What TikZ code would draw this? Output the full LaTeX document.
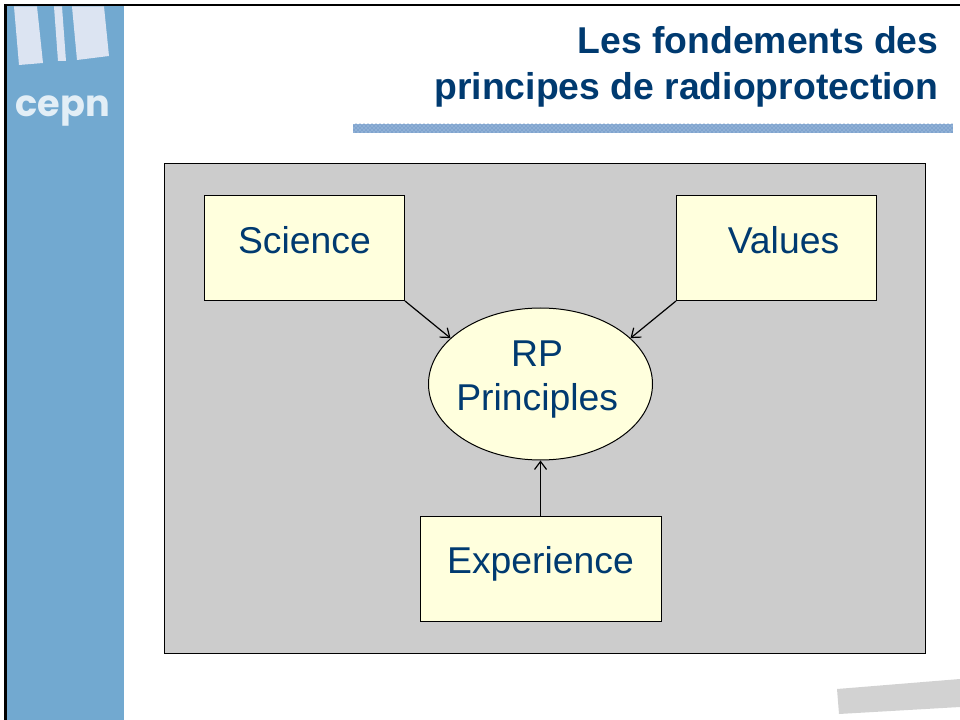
\documentclass[tikz,border=0pt]{standalone}
\usepackage{fontspec}
\setmainfont{Liberation Sans}
\newfontfamily\logofont{Poppins}
\usetikzlibrary{shapes.geometric,patterns,arrows.meta}
\definecolor{navytext}{HTML}{003A70}
\definecolor{sidebar}{HTML}{72A9D0}
\definecolor{logobar}{HTML}{DCE4F2}
\definecolor{logotext}{HTML}{E2EEF6}
\definecolor{panelgrey}{HTML}{CCCCCC}
\definecolor{boxyellow}{HTML}{FFFFDD}
\definecolor{stripblue}{HTML}{8FB0D6}
\definecolor{stripdark}{HTML}{4F7FB5}
\definecolor{cornergrey}{HTML}{D2D2D2}
\tikzset{every picture/.style={line width=0.75pt}}
\tikzset{
	boxnode/.style={draw=black,fill=boxyellow,text=navytext,font=\fontsize{28}{34}\selectfont,minimum width=150pt,minimum height=78.75pt,inner sep=0pt,text height=20pt,text depth=12pt},
	ovalnode/.style={draw=black,fill=boxyellow,text=navytext,font=\fontsize{28}{33}\selectfont,ellipse,align=center,minimum width=168pt,minimum height=114pt,inner xsep=-8pt,inner ysep=0pt},
	arrowline/.style={draw=black,line width=0.9pt,-{Straight Barb[length=6pt,width=9pt]}}
}

\begin{document}
\begin{tikzpicture}[x=0.75pt,y=0.75pt,yscale=-1,xscale=1]
		\useasboundingbox (0,0) rectangle (960,720);
		
		%Sidebar and page border
		\fill [sidebar] (6,6) rectangle (124,720);
		\fill [black] (4,4) rectangle (960,6.5);
		\fill [black] (4,4) rectangle (6.5,720);
		
		%Logo bars
		\fill [logobar] (14,6.5) -- (37,6.5) -- (43,63) -- (19,65) -- cycle;
		\fill [logobar] (54,6.5) -- (62,6.5) -- (66,61) -- (58,61) -- cycle;
		\fill [logobar] (72,6.5) -- (104,6.5) -- (109,56) -- (77,60) -- cycle;
		
		% Text Node
		\node (logo) at (63,117) [anchor=base,inner sep=0pt,text=logotext,font=\fontsize{27.5}{30}\logofont\bfseries] {cepn};
		
		% Text Node
		\node (title) at (939,67) [anchor=east,align=right,inner sep=0pt,text=navytext,font=\fontsize{28}{34}\selectfont\bfseries] {Les fondements des\\principes de radioprotection};
		
		%Title strip
		\fill [stripblue] (353,124) rectangle (953,133);
		\fill [pattern=crosshatch dots,pattern color=stripdark] (353,124) rectangle (953,133);
		
		%Corner mark
		\fill [cornergrey] (837,689) -- (960,679) -- (960,707) -- (839,714) -- cycle;
		
		%Panel
		\draw [fill=panelgrey,draw=black] (164,164) rectangle (925,653);
		
		%Nodes
		\node (science) at (304.5,248) [boxnode] {Science};
		\node (values) at (776.5,248) [boxnode] {\hspace*{10.5pt}Values};
		\node (experience) at (540.5,568.5) [boxnode,minimum width=180.75pt] {Experience};
		\node (rp) at (540.5,384) [ovalnode] {\hspace*{-5pt}RP\\\hspace*{-5pt}Principles\\[-21pt]\mbox{}};
		
		%Connectors
		\draw [arrowline] (science.south east) -- (rp.153);
		\draw [arrowline] (values.south west) -- (rp.27);
		\draw [arrowline] (experience.north) -- (rp.south);
		
		\end{tikzpicture}
\end{document}
